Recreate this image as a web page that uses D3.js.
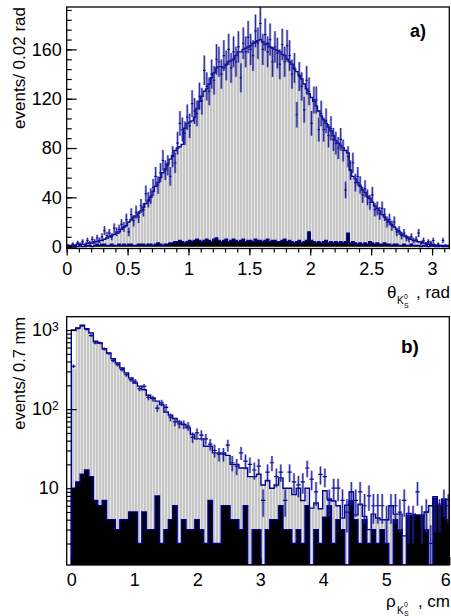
<!DOCTYPE html>
<html>
<head>
<meta charset="utf-8">
<script src="https://cdn.jsdelivr.net/npm/d3@7"></script>
<style>
    body { margin: 0; background: #fff; }
    text { font-family: "Liberation Sans", Arial, Helvetica, sans-serif; }
</style>
</head>
<body>
<div id="chart"></div>
<script>

// ---- panel a) : theta of K0s, bins of 0.02 rad ----
var thetaBinWidth = 0.02;

// simulation (grey histogram)
var thetaMc = [
    1,1,1,1,2,2,2,2,3,3,
    3,4,4,5,5,6,7,8,9,10,
    11,12,14,16,17,20,22,24,25,27,
    29,32,35,37,40,45,49,52,56,60,
    63,67,71,74,78,80,81,83,96,100,
    101,102,105,112,118,122,126,128,132,137,
    141,145,146,146,145,148,150,151,152,155,
    158,158,160,161,162,163,165,166,167,168,
    166,164,165,162,161,160,159,158,156,155,
    152,150,148,144,142,139,136,132,128,124,
    121,118,114,110,106,103,100,97,94,90,
    86,84,82,80,78,76,62,57,55,52,
    49,46,44,41,39,36,33,31,29,26,
    24,22,20,18,16,14,12,10,9,8,
    7,6,5,5,4,4,3,3,2,2,
    2,1,1,1,1,1,1
];

// background (black histogram)
var thetaBkg = [
    0,0,1,0,0,1,0,0,1,1,
    0,1,2,1,2,2,1,1,2,1,
    1,2,1,2,1,2,2,1,1,2,
    2,2,1,2,2,1,2,3,2,1,
    2,2,3,3,4,4,5,4,3,4,
    5,4,5,6,5,4,5,6,5,4,
    6,7,5,4,5,6,4,5,6,5,
    4,5,6,4,5,5,4,6,5,5,
    4,5,6,4,5,5,4,4,5,6,
    4,5,4,3,4,5,3,4,5,12,
    5,4,3,4,3,4,5,3,4,3,
    4,3,4,3,4,11,3,4,3,2,
    3,2,3,2,4,3,2,3,2,2,
    3,2,2,1,2,2,1,1,2,1,
    1,2,1,1,1,0,1,1,0,1,
    1,0,0,1,0,0,0
];

// data (points with errors)
var thetaData = [
    1,0,2,1,3,2,4,1,5,3,
    6,4,7,5,8,13,9,11,8,15,
    12,14,18,16,22,12,26,21,28,24,
    33,30,43,38,41,48,57,50,60,70,
    62,66,57,73,68,84,100,95,92,105,
    98,116,110,108,122,118,143,130,126,140,
    135,152,150,140,155,147,160,145,158,150,
    162,137,165,158,170,160,155,175,165,181,
    160,172,158,168,150,162,157,148,164,150,
    163,155,140,145,107,138,130,111,135,126,
    100,119,119,95,108,95,102,90,96,87,
    84,80,87,78,46,73,62,68,52,57,
    50,42,47,40,36,42,30,31,27,31,
    26,20,22,17,20,12,13,9,11,7,
    6,8,5,6,11,3,5,2,4,3,
    5,1,2,0,5,1,0
];

var thetaTicks = [0, 0.5, 1, 1.5, 2, 2.5, 3];
var thetaYTicks = [0, 40, 80, 120, 160];

// ---- panel b) : rho of K0s, bins of 0.7 mm ----
var rhoBinWidth = 0.07;

var rhoMc = [
    320,1060,1146,1040,916,720,686,580,512,434,
    383,331,287,248,214,195,176,150,138,126,
    114,92,84,76,69,64,58,48,42,42,
    34,34,28,28,28,26,20,20,18,18,
    14,14,15,11,12.5,10,11,13.5,10,10,
    8.3,10,7,10,5.6,6.5,5.5,9.3,7.3,6.9,
    6,4.2,6.1,9,4.6,6.3,4.4,3,4.7,4.2,
    4,4,6,4.7,4.7,2.5,4.8,4.7,4.6,4.6,
    5,6,7.8,6.3,7.3,7.2
];
// outline of the first bin is drawn higher than its fill
var rhoMcOutlineBin0 = 1000;

var rhoBkg = [
    10,12,15,17,14,7,6,7,4,4,
    3,4,4,5,5,2,5,3,3,8,
    2,3,4,6,2,4,3,3,4,3,
    2,7,2,2,6,6,4,4,3,6,
    0,3,3,0,3,4,4,6,3,3,
    2,3,2,6,0,3,2,4.3,6,2,
    4,3,0,7,4,2,4,2,3,2,
    3,2,0,4,3,0,4.5,4.5,4.5,4.5,
    3,0,7.5,6,7,4
];

var rhoData = [
    348,1050,1130,1020,850,686,686,575,505,409,
    365,316,273,236,225,182,194,141,136,103,
    120,105,79,69,65,64,61,44,50,47,
    42,36,30,27,27,35,21,19,28,22,
    20,17,19,7,16,21,14,16,7,16,
    12,11,12,18,13,9,15,14,7,10,
    10,7,5,9,7,9,6,8,6,6,
    6,4,6,6,5,7,4,4,9,4,
    5,2,5,5,7,6
];

var rhoTicks = [0, 1, 2, 3, 4, 5, 6];
var rhoYTicks = [10, 100, 1000];


var W = 451, H = 616;
var lineBlue = "#000090";
var pointBlue = "#0a0a8c";

var svg = d3.select("#chart").append("svg")
    .attr("width", W)
    .attr("height", H);

var defs = svg.append("defs");

// ROOT style vertical hatch for the simulation
var hatch = defs.append("pattern")
    .attr("id", "hatch")
    .attr("width", 3)
    .attr("height", 3)
    .attr("patternUnits", "userSpaceOnUse");
hatch.append("rect").attr("width", 3).attr("height", 3).attr("fill", "#c6c6c6");
hatch.append("rect").attr("x", 2).attr("width", 1).attr("height", 3).attr("fill", "#e6e6e6");


/*
 * step histogram helpers
 */
function stepPoints(values, start, w, base) {
    var pts = [[start, base]];
    values.forEach(function(v, i) {
        pts.push([start + i * w, v]);
    });
    pts.push([start + values.length * w, values[values.length - 1]]);
    pts.push([start + values.length * w, base]);
    return pts;
}

function drawHist(g, x, yv, values, start, w, base, fill, stroke) {
    var pts = stepPoints(values, start, w, base);

    if (fill) {
        var area = d3.area()
            .curve(d3.curveStepAfter)
            .x(function(d) { return x(d[0]); })
            .y0(yv(base))
            .y1(function(d) { return yv(d[1]); });
        g.append("path")
            .attr("d", area(pts))
            .attr("fill", fill);
    }
    if (stroke) {
        var line = d3.line()
            .curve(d3.curveStepAfter)
            .x(function(d) { return x(d[0]); })
            .y(function(d) { return yv(d[1]); });
        g.append("path")
            .attr("d", line(pts))
            .attr("fill", "none")
            .attr("stroke", stroke)
            .attr("stroke-width", 1.4);
    }
}

function drawPoints(g, x, yv, values, start, w) {
    var pts = g.selectAll("g.pt")
        .data(values.map(function(v, i) { return { i: i, v: v }; })
            .filter(function(d) { return d.v > 0; }))
        .enter().append("g")
        .attr("class", "pt");

    pts.append("line")
        .attr("x1", function(d) { return x(start + (d.i + 0.5) * w); })
        .attr("x2", function(d) { return x(start + (d.i + 0.5) * w); })
        .attr("y1", function(d) { return yv(d.v - Math.sqrt(d.v)); })
        .attr("y2", function(d) { return yv(d.v + Math.sqrt(d.v)); })
        .attr("stroke", "#3c3cb4")
        .attr("stroke-opacity", 0.5)
        .attr("stroke-width", 2.4);

    pts.append("line")
        .attr("x1", function(d) { return x(start + (d.i + 0.5) * w); })
        .attr("x2", function(d) { return x(start + (d.i + 0.5) * w); })
        .attr("y1", function(d) { return yv(d.v - Math.sqrt(d.v)); })
        .attr("y2", function(d) { return yv(d.v + Math.sqrt(d.v)); })
        .attr("stroke", pointBlue)
        .attr("stroke-opacity", 0.8)
        .attr("stroke-width", 1);

    pts.append("line")
        .attr("x1", function(d) { return x(start + d.i * w); })
        .attr("x2", function(d) { return x(start + (d.i + 1) * w); })
        .attr("y1", function(d) { return yv(d.v); })
        .attr("y2", function(d) { return yv(d.v); })
        .attr("stroke", pointBlue)
        .attr("stroke-width", 1.2);
}


/*
 * Panel a) theta
 */
var xA = d3.scaleLinear().domain([0, Math.PI]).range([66.7, 449.3]);
var yA = d3.scaleLinear().domain([-1.5, 194.4]).range([248.5, 7]);
var yvA = function(v) { return yA(v); };

defs.append("clipPath").attr("id", "clipA")
    .append("rect")
    .attr("x", xA.range()[0]).attr("y", yA.range()[1])
    .attr("width", xA.range()[1] - xA.range()[0])
    .attr("height", yA.range()[0] - yA.range()[1]);

var gA = svg.append("g").attr("clip-path", "url(#clipA)");
drawHist(gA, xA, yvA, thetaMc, 0, thetaBinWidth, 0, "url(#hatch)", null);
drawHist(gA, xA, yvA, thetaBkg, 0, thetaBinWidth, 0, "#000", lineBlue);
drawHist(gA, xA, yvA, thetaMc, 0, thetaBinWidth, 0, null, lineBlue);
drawPoints(gA, xA, yvA, thetaData, 0, thetaBinWidth);

// axes
var xAxisA = d3.axisBottom(xA).tickValues(thetaTicks).tickSize(7).tickPadding(7)
    .tickFormat(d3.format("~g"));
var xMinorA = d3.axisBottom(xA).tickValues(d3.range(0, 3.15, 0.1)).tickSize(4).tickFormat("");
var yAxisA = d3.axisLeft(yA).tickValues(thetaYTicks).tickSize(-10).tickPadding(5);
var yMinorA = d3.axisLeft(yA).tickValues(d3.range(0, 194, 8)).tickSize(-5).tickFormat("");

svg.append("g").attr("class", "axis").attr("transform", "translate(0," + yA.range()[0] + ")").call(xMinorA);
svg.append("g").attr("class", "axis").attr("transform", "translate(0," + yA.range()[0] + ")").call(xAxisA);
svg.append("g").attr("class", "axis").attr("transform", "translate(" + xA.range()[0] + ",0)").call(yMinorA);
svg.append("g").attr("class", "axis").attr("transform", "translate(" + xA.range()[0] + ",0)").call(yAxisA);

svg.append("rect")
    .attr("x", xA.range()[0]).attr("y", yA.range()[1])
    .attr("width", xA.range()[1] - xA.range()[0])
    .attr("height", yA.range()[0] - yA.range()[1])
    .attr("fill", "none").attr("stroke", "#000").attr("stroke-width", 1.3);

svg.append("text")
    .attr("transform", "translate(25,7) rotate(-90)")
    .attr("text-anchor", "end")
    .attr("font-size", 17)
    .text("events/ 0.02 rad");

svg.append("text")
    .attr("x", 410).attr("y", 37)
    .attr("font-size", 18).attr("font-weight", "bold")
    .text("a)");

var titleA = svg.append("g");
titleA.append("text").attr("x", 387).attr("y", 298).attr("font-size", 17).text("θ");
titleA.append("text").attr("x", 397).attr("y", 304).attr("font-size", 10).text("K");
titleA.append("text").attr("x", 404).attr("y", 299).attr("font-size", 7).text("0");
titleA.append("text").attr("x", 404).attr("y", 308).attr("font-size", 7).text("S");
titleA.append("text").attr("x", 450).attr("y", 298).attr("text-anchor", "end")
    .attr("font-size", 17).text(", rad");


/*
 * Panel b) rho, log scale
 */
var xB = d3.scaleLinear().domain([-0.073, 6]).range([66.7, 449.3]);
var yB = d3.scaleLog().domain([1.07, 1473]).range([565, 316.7]).clamp(true);
var yvB = function(v) { return yB(Math.max(v, 0.5)); };

defs.append("clipPath").attr("id", "clipB")
    .append("rect")
    .attr("x", xB.range()[0]).attr("y", yB.range()[1])
    .attr("width", xB.range()[1] - xB.range()[0])
    .attr("height", yB.range()[0] - yB.range()[1]);

var rhoMcOutline = rhoMc.map(function(v, i) { return i === 0 ? rhoMcOutlineBin0 : v; });

var gB = svg.append("g").attr("clip-path", "url(#clipB)");
drawHist(gB, xB, yvB, rhoMc, 0, rhoBinWidth, 0.5, "url(#hatch)", null);
drawHist(gB, xB, yvB, rhoBkg, 0, rhoBinWidth, 0.5, "#000", lineBlue);
drawHist(gB, xB, yvB, rhoMcOutline, 0, rhoBinWidth, 0.5, null, lineBlue);
drawPoints(gB, xB, yvB, rhoData, 0, rhoBinWidth);

var xAxisB = d3.axisBottom(xB).tickValues(rhoTicks).tickSize(-8).tickPadding(8)
    .tickFormat(d3.format("d"));
var yAxisB = d3.axisLeft(yB).tickValues(rhoYTicks).tickSize(-10).tickPadding(8)
    .tickFormat("");
var minorB = [];
[1, 10, 100, 1000].forEach(function(dec) {
    for (var m = 2; m <= 9; m++) {
        if (dec * m < 1473) minorB.push(dec * m);
    }
});
var yMinorB = d3.axisLeft(yB).tickValues(minorB).tickSize(-5).tickFormat("");

var xAxisBG = svg.append("g").attr("class", "axis").attr("transform", "translate(0," + yB.range()[0] + ")").call(xAxisB);
svg.append("g").attr("class", "axis").attr("transform", "translate(" + xB.range()[0] + ",0)").call(yMinorB);
var yAxisBG = svg.append("g").attr("class", "axis").attr("transform", "translate(" + xB.range()[0] + ",0)").call(yAxisB);

// last label sits on the frame edge: keep it inside the page
xAxisBG.selectAll(".tick text")
    .filter(function(d) { return d === 6; })
    .attr("text-anchor", "end")
    .attr("dx", "0.05em");

// 10, 10^2, 10^3 labels
yAxisBG.selectAll(".tick text").each(function(d) {
    var t = d3.select(this);
    var p = Math.round(Math.log10(d));
    t.append("tspan").text("10");
    if (p > 1) {
        t.append("tspan").attr("dy", "-0.45em").attr("font-size", 12).text(p);
    }
});

svg.append("rect")
    .attr("x", xB.range()[0]).attr("y", yB.range()[1])
    .attr("width", xB.range()[1] - xB.range()[0])
    .attr("height", yB.range()[0] - yB.range()[1])
    .attr("fill", "none").attr("stroke", "#000").attr("stroke-width", 1.3);

svg.append("text")
    .attr("transform", "translate(25,317) rotate(-90)")
    .attr("text-anchor", "end")
    .attr("font-size", 16.5)
    .text("events/ 0.7 mm");

svg.append("text")
    .attr("x", 401).attr("y", 353)
    .attr("font-size", 19).attr("font-weight", "bold")
    .text("b)");

var titleB = svg.append("g");
titleB.append("text").attr("x", 386).attr("y", 607).attr("font-size", 17).text("ρ");
titleB.append("text").attr("x", 397).attr("y", 614).attr("font-size", 10).text("K");
titleB.append("text").attr("x", 404).attr("y", 607).attr("font-size", 7).text("0");
titleB.append("text").attr("x", 404).attr("y", 616).attr("font-size", 7).text("S");
titleB.append("text").attr("x", 450).attr("y", 607).attr("text-anchor", "end")
    .attr("font-size", 17).text(", cm");

// common axis styling
svg.selectAll(".axis .domain").remove();
svg.selectAll(".axis line").attr("stroke", "#000").attr("stroke-width", 1.2);
svg.selectAll(".axis text")
    .attr("font-family", "Liberation Sans, Arial, sans-serif")
    .attr("font-size", 18)
    .attr("fill", "#000");

</script>
</body>
</html>
